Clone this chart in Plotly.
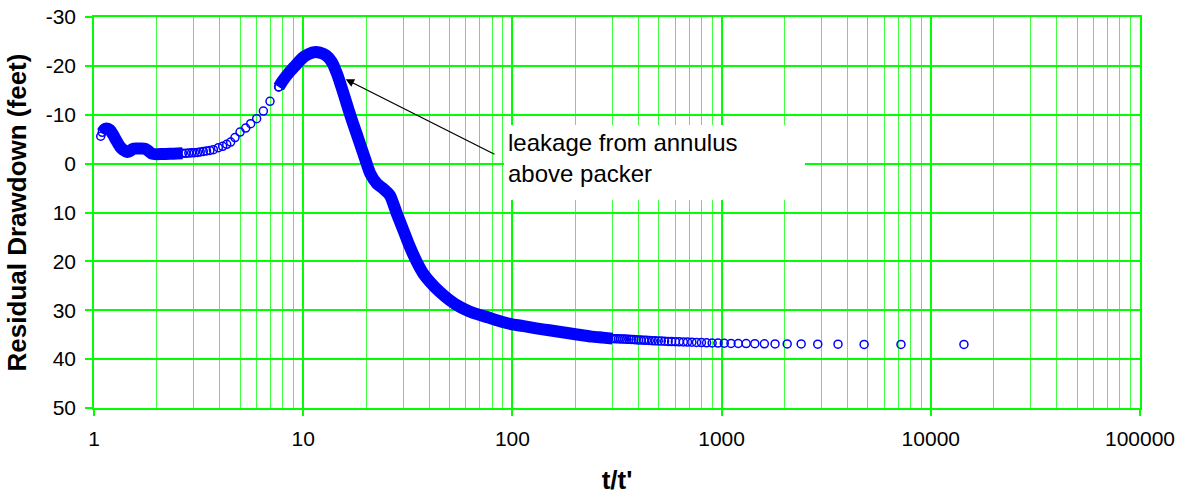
import plotly.graph_objects as go

# ---- data (t/t' vs residual drawdown, feet) ----
# early dense band of overlapping observations
early_band_x = [1.095, 1.12, 1.15, 1.19, 1.23, 1.28, 1.33, 1.38, 1.44, 1.49, 1.53, 1.60,
                1.68, 1.76, 1.82, 1.88, 1.95, 2.1, 2.3, 2.5, 2.65]
early_band_y = [-6.4, -7.0, -7.2, -6.9, -6.0, -4.7, -3.5, -2.8, -2.4, -2.6, -3.0, -3.1,
                -3.1, -3.0, -2.6, -2.1, -1.95, -1.95, -2.0, -2.05, -2.1]

# separately visible early observations
early_pts_x = [1.077, 2.75, 2.84, 2.93, 3.02, 3.12, 3.22, 3.33, 3.45, 3.58, 3.72, 3.93, 4.12,
               4.31, 4.50, 4.72, 4.99, 5.31, 5.61, 5.99, 6.45, 6.94, 7.64]
early_pts_y = [-5.6, -2.1, -2.15, -2.2, -2.25, -2.3, -2.4, -2.5, -2.6, -2.7, -2.86, -3.27, -3.54,
               -3.95, -4.42, -5.32, -6.46, -7.28, -8.18, -9.2, -10.76, -12.74, -15.7]

# main dense band (peak, decline, flattening)
main_band_x = [7.64, 8.0, 8.5, 9.06, 9.6, 10.1, 10.7, 11.3, 12.0, 12.9, 13.7, 14.5, 15.6,
               16.7, 18.0, 19.4, 20.9, 22.5, 24.1, 26.0, 28.0, 30.1, 32.4, 34.9, 37.5,
               40.4, 45.1, 50.0, 56.0, 62.0, 69.0, 77.0, 85.0, 100.0, 115.0, 130.0, 150.0,
               167.0, 200.0, 240.0, 270.0, 301.0]
main_band_y = [-15.7, -17.0, -18.5, -19.8, -21.0, -21.9, -22.5, -22.8, -22.7, -22.1, -20.8, -18.4,
               -14.3, -10.2, -6.1, -2.0, 2.0, 4.1, 5.1, 6.5, 10.2, 13.6, 17.1, 20.1, 22.5,
               24.2, 26.3, 27.9, 29.3, 30.2, 30.9, 31.5, 32.1, 32.9, 33.3, 33.7, 34.1,
               34.4, 34.9, 35.4, 35.6, 35.8]

# late, separately visible observations
late_pts_x = [14401, 7201, 4801, 3601, 2881, 2401, 2058, 1801, 1601, 1441, 1310, 1201,
              1109, 1030, 961, 901, 848, 801, 759, 721, 687, 656, 627, 601, 577, 555,
              534, 515, 498, 481, 466, 451, 437, 425, 412, 401, 390, 380, 370, 361, 352,
              344, 336, 328, 321, 314, 307]
late_pts_y = [37.0, 37.0, 37.0, 36.95, 36.95, 36.9, 36.9, 36.88, 36.86, 36.85, 36.82, 36.8,
              36.78, 36.75, 36.72, 36.7, 36.66, 36.62, 36.58, 36.55, 36.52, 36.49, 36.46, 36.43,
              36.4, 36.37, 36.34, 36.31, 36.28, 36.25, 36.22, 36.19, 36.16, 36.13, 36.1, 36.07,
              36.04, 36.01, 35.98, 35.95, 35.92, 35.9, 35.88, 35.86, 35.84, 35.82, 35.81]

x_tick_vals = [1, 10, 100, 1000, 10000, 100000]
x_tick_text = ["1", "10", "100", "1000", "10000", "100000"]
y_tick_vals = [-30, -20, -10, 0, 10, 20, 30, 40, 50]
y_tick_text = ["-30", "-20", "-10", "0", "10", "20", "30", "40", "50"]
x_minor_vals = [m * 10 ** d for d in range(5) for m in range(2, 10)]

x_title = "t/t'"
y_title = "Residual Drawdown (feet)"
note_text = "leakage from annulus<br>above packer"

BLUE = "#0000FF"
GREEN = "#00FF00"
FONT = "Liberation Sans, Arial, sans-serif"

marker = dict(symbol="circle-open", size=8, color=BLUE, line=dict(width=1.5, color=BLUE))

fig = go.Figure()
for bx, by in [(early_band_x, early_band_y), (main_band_x, main_band_y)]:
    fig.add_trace(go.Scatter(x=bx, y=by, mode="lines+markers",
                             line=dict(color=BLUE, width=12, shape="spline", smoothing=0.6),
                             marker=marker, showlegend=False, hoverinfo="x+y"))
for px, py in [(early_pts_x, early_pts_y), (late_pts_x, late_pts_y)]:
    fig.add_trace(go.Scatter(x=px, y=py, mode="markers", marker=marker,
                             showlegend=False, hoverinfo="x+y"))

fig.update_layout(
    width=1182, height=495,
    margin=dict(l=94, r=42, t=17, b=87),
    paper_bgcolor="white", plot_bgcolor="white",
    font=dict(family=FONT, color="black"),
    xaxis=dict(
        type="log", range=[0, 5],
        tickmode="array", tickvals=x_tick_vals, ticktext=x_tick_text,
        ticks="outside", ticklen=6, tickwidth=1.5, tickcolor=GREEN,
        ticklabelstandoff=5,
        tickfont=dict(size=21, family=FONT, color="black"),
        showgrid=True, gridcolor=GREEN, gridwidth=1.5,
        minor=dict(tickvals=x_minor_vals, showgrid=True, gridcolor="#40FF40",
                   gridwidth=1.2, ticks=""),
        showline=True, linecolor=GREEN, linewidth=1.5, mirror=True,
        zeroline=False, automargin=False,
        title=dict(text=x_title, standoff=25,
                   font=dict(size=26, family=FONT, color="black", weight="bold")),
    ),
    yaxis=dict(
        range=[50, -30],
        tickmode="array", tickvals=y_tick_vals, ticktext=y_tick_text,
        ticks="outside", ticklen=7, tickwidth=1.5, tickcolor=GREEN,
        ticklabelstandoff=5,
        tickfont=dict(size=21, family=FONT, color="black"),
        showgrid=True, gridcolor=GREEN, gridwidth=1.5,
        showline=True, linecolor=GREEN, linewidth=1.5, mirror=True,
        zeroline=False, automargin=False,
        title=dict(text=y_title, standoff=12,
                   font=dict(size=26, family=FONT, color="black", weight="bold")),
    ),
    annotations=[
        dict(xref="paper", yref="paper", x=0.5358, y=0.6279,
             xanchor="center", yanchor="middle", text=note_text, showarrow=False,
             width=293, height=67, align="left", valign="top",
             bgcolor="white", borderpad=4, borderwidth=0,
             font=dict(size=24, family=FONT, color="black")),
        dict(xref="paper", yref="paper", x=0.2406, y=0.8407, text="",
             showarrow=True, ax=150.3, ay=75.7, axref="pixel", ayref="pixel",
             arrowhead=2, arrowsize=1.3, arrowwidth=1.3, arrowcolor="black",
             standoff=0, startstandoff=0),
    ],
)

fig.write_html("out.html")
